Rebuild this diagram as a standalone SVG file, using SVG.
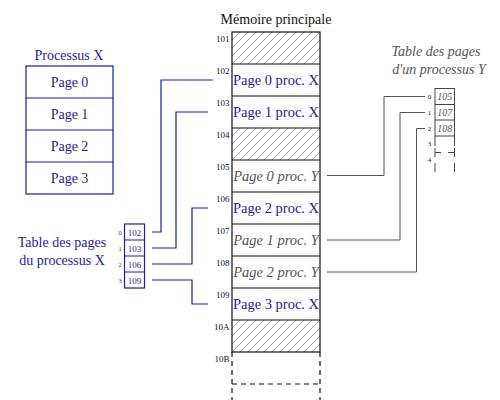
<svg xmlns="http://www.w3.org/2000/svg" width="500" height="400" viewBox="0 0 500 400">
<defs>
<pattern id="hatch" patternUnits="userSpaceOnUse" width="8" height="8">
<path d="M-2,2 L2,-2 M0,8 L8,0 M6,10 L10,6" stroke="#777" stroke-width="0.7"/>
</pattern>
<style>
text{font-family:"Liberation Serif","Times New Roman",serif}
.b{fill:#1c1ca4}
.g{fill:#555;font-style:italic}
.k{fill:#111}
.mem{font-size:14.5px;text-anchor:middle}
.addr{font-size:9px;text-anchor:end;fill:#111}
.bx{fill:none;stroke:#1c1ca4;stroke-width:1.2}
.mk{fill:none;stroke:#111;stroke-width:1.2}
.cx{fill:none;stroke:#1c1ca4;stroke-width:1.2}
.cy{fill:none;stroke:#555;stroke-width:1}
.ty{fill:none;stroke:#444;stroke-width:1}
.dash{stroke-dasharray:5,4}
</style>
</defs>

<g id="processus-x">
<text x="69" y="60" font-size="14" text-anchor="middle" class="b">Processus X</text>
<rect x="26" y="66" width="87" height="128" class="bx"/>
<path d="M26,98 H113 M26,130 H113 M26,162 H113" class="bx"/>
<text x="69.5" y="87" font-size="14" text-anchor="middle" class="b">Page 0</text>
<text x="69.5" y="119" font-size="14" text-anchor="middle" class="b">Page 1</text>
<text x="69.5" y="151" font-size="14" text-anchor="middle" class="b">Page 2</text>
<text x="69.5" y="183" font-size="14" text-anchor="middle" class="b">Page 3</text>
</g>

<g id="table-x">
<text x="62" y="247" font-size="14" text-anchor="middle" class="b">Table des pages</text>
<text x="62" y="265" font-size="14" text-anchor="middle" class="b">du processus X</text>
<rect x="124.5" y="224" width="20" height="64" class="bx"/>
<path d="M124.5,240 H144.5 M124.5,256 H144.5 M124.5,272 H144.5" class="bx"/>
<g font-size="9" text-anchor="middle" class="b">
<text x="134.5" y="236">102</text>
<text x="134.5" y="252">103</text>
<text x="134.5" y="268">106</text>
<text x="134.5" y="284">109</text>
</g>
<g font-size="6.5" text-anchor="middle" class="b">
<text x="120" y="234.5">0</text>
<text x="120" y="250.5">1</text>
<text x="120" y="266.5">2</text>
<text x="120" y="282.5">3</text>
</g>
</g>

<g id="memoire">
<text x="276" y="24" font-size="14" text-anchor="middle" class="k">Mémoire principale</text>
<rect x="232" y="32" width="88" height="32" fill="url(#hatch)"/>
<rect x="232" y="128" width="88" height="32" fill="url(#hatch)"/>
<rect x="232" y="320" width="88" height="32" fill="url(#hatch)"/>
<rect x="232" y="32" width="88" height="320" class="mk"/>
<path d="M232,64 H320 M232,96 H320 M232,128 H320 M232,160 H320 M232,192 H320 M232,224 H320 M232,256 H320 M232,288 H320 M232,320 H320" class="mk"/>
<path d="M232,352 V400 M320,352 V400 M232,384 H320" class="mk dash"/>
<text x="276" y="85" class="mem b">Page 0 proc. X</text>
<text x="276" y="117" class="mem b">Page 1 proc. X</text>
<text x="276" y="181" class="mem g">Page 0 proc. Y</text>
<text x="276" y="213" class="mem b">Page 2 proc. X</text>
<text x="276" y="245" class="mem g">Page 1 proc. Y</text>
<text x="276" y="277" class="mem g">Page 2 proc. Y</text>
<text x="276" y="309" class="mem b">Page 3 proc. X</text>
<text x="229.5" y="41.5" class="addr">101</text>
<text x="229.5" y="73.5" class="addr">102</text>
<text x="229.5" y="105.5" class="addr">103</text>
<text x="229.5" y="137.5" class="addr">104</text>
<text x="229.5" y="169.5" class="addr">105</text>
<text x="229.5" y="201.5" class="addr">106</text>
<text x="229.5" y="233.5" class="addr">107</text>
<text x="229.5" y="265.5" class="addr">108</text>
<text x="229.5" y="297.5" class="addr">109</text>
<text x="229.5" y="329.5" class="addr">10A</text>
<text x="229.5" y="361.5" class="addr">10B</text>
</g>

<g id="table-y">
<text x="436" y="56" font-size="14" text-anchor="middle" class="g">Table des pages</text>
<text x="439" y="74" font-size="14" text-anchor="middle" class="g">d'un processus Y</text>
<rect x="435" y="88.5" width="19.5" height="47.5" class="ty"/>
<path d="M435,104.5 H454.5 M435,120 H454.5 M435,136 V146 M454.5,136 V146" class="ty"/>
<path d="M435,148 V157 M454.5,148 V157 M435,152.5 H441 M448,152.5 H454.5 M435,163 V172 M454.5,163 V172" class="ty"/>
<g font-size="10" text-anchor="middle" class="g">
<text x="444.7" y="100">105</text>
<text x="444.7" y="116">107</text>
<text x="444.7" y="132">108</text>
</g>
<g font-size="7" text-anchor="middle" fill="#222">
<text x="429.5" y="98.5">0</text>
<text x="429.5" y="114.5">1</text>
<text x="429.5" y="130.5">2</text>
<text x="429.5" y="146">3</text>
<text x="429.5" y="161.5">4</text>
</g>
</g>

<g id="connecteurs">
<path d="M152,232 H161 V80 H213" class="cx"/>
<path d="M152,248 H176 V112 H208" class="cx"/>
<path d="M152,264 H192 V208 H208" class="cx"/>
<path d="M152,280 H192 V304 H208" class="cx"/>
<path d="M425,96.5 H384 V175.5 H327" class="cy"/>
<path d="M425,112.5 H400 V240 H327" class="cy"/>
<path d="M425,128.5 H416.5 V272 H327" class="cy"/>
</g>
</svg>
